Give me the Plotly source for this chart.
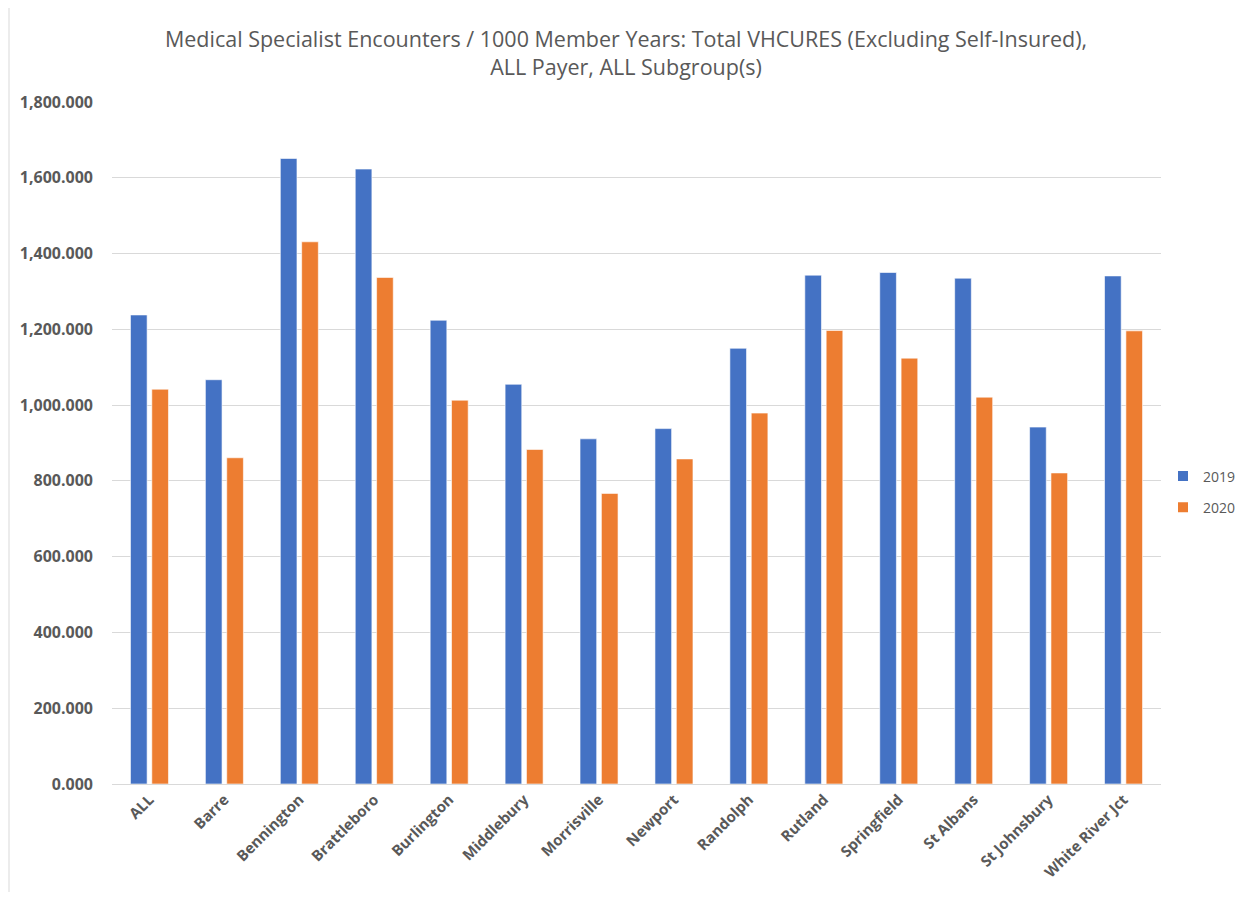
import plotly.graph_objects as go

categories = ["ALL", "Barre", "Bennington", "Brattleboro", "Burlington", "Middlebury",
              "Morrisville", "Newport", "Randolph", "Rutland", "Springfield", "St Albans",
              "St Johnsbury", "White River Jct"]
values_2019 = [1238, 1067, 1651, 1623, 1224, 1055, 911, 938, 1150, 1343, 1350, 1335, 942, 1341]
values_2020 = [1042, 861, 1431, 1337, 1013, 883, 767, 858, 979, 1197, 1124, 1021, 821, 1196]
title_text = ("Medical Specialist Encounters / 1000 Member Years: Total VHCURES (Excluding Self-Insured),"
              "<br>ALL Payer, ALL Subgroup(s)")

# page body has an 8px margin, so the figure starts at (8, 8); keep it inside 1252x900
W, H = 1236, 884
ml, mr, mt, mb = 104, 83, 94, 108

fig = go.Figure()
fig.add_trace(go.Bar(name="2019", x=categories, y=values_2019, legendgroup="a",
                     marker=dict(color="#4472C4", line=dict(color="#ffffff", width=0.6))))
fig.add_trace(go.Bar(name="2020", x=categories, y=values_2020, legendgroup="b",
                     marker=dict(color="#ED7D31", line=dict(color="#ffffff", width=0.6))))

fig.update_layout(
    width=W, height=H,
    margin=dict(l=ml, r=mr, t=mt, b=mb, autoexpand=False),
    paper_bgcolor="white", plot_bgcolor="white",
    barmode="group", bargap=0.43, bargroupgap=0.22,
    title=dict(text=title_text, x=0.5, xanchor="center", y=1 - 39 / H, yanchor="top",
               font=dict(family="Open Sans", size=21.5, color="#595959")),
    legend=dict(xref="container", yref="container",
                x=(1163 - 8) / W, xanchor="left", y=1 - (492 - 8) / H, yanchor="middle",
                font=dict(family="Open Sans", size=14, color="#595959"),
                itemsizing="constant", tracegroupgap=10, bgcolor="rgba(0,0,0,0)"),
    xaxis=dict(tickangle=-45, tickfont=dict(family="Open Sans", size=15, color="#595959", weight="bold"),
               showline=True, linecolor="#d9d9d9", linewidth=1, ticks="", showgrid=False),
    yaxis=dict(range=[0, 1800], dtick=200, tickformat=",.3f",
               tickfont=dict(family="Open Sans", size=16, color="#595959", weight="bold"),
               showgrid=True, gridcolor="#d9d9d9", gridwidth=1, zeroline=False,
               showline=False, ticks="", ticklabelstandoff=18),
    font=dict(family="Open Sans", color="#595959"),
)

# chart-area border on the left edge (page x = 8)
pw = W - ml - mr
ph = H - mt - mb
x_left = (1 - ml) / pw
fig.add_shape(type="line", xref="paper", yref="paper",
              x0=x_left, x1=x_left, y0=-mb / ph, y1=1 + mt / ph,
              line=dict(color="#d9d9d9", width=1))

fig.write_html("out.html")
